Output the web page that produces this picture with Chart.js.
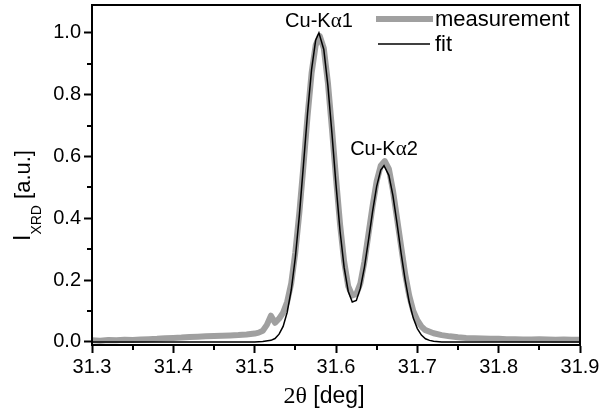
<!DOCTYPE html>
<html>
<head>
<meta charset="utf-8">
<script src="https://cdn.jsdelivr.net/npm/chart.js@4.4.1/dist/chart.umd.min.js"></script>
<style>
  html, body { margin: 0; padding: 0; background: #fff; }
</style>
</head>
<body>
<canvas id="xrd" width="606" height="412"></canvas>
<script>
const measTheta = [31.30, 31.31, 31.32, 31.33, 31.34, 31.35, 31.36, 31.37, 31.38, 31.39,
  31.40, 31.41, 31.42, 31.43, 31.44, 31.45, 31.46, 31.47, 31.48, 31.49,
  31.50, 31.505, 31.51, 31.515, 31.52, 31.525, 31.53, 31.535, 31.54, 31.545,
  31.55, 31.555, 31.56, 31.565, 31.57, 31.575, 31.58, 31.585, 31.59, 31.595,
  31.60, 31.605, 31.61, 31.615, 31.62, 31.625, 31.63, 31.635, 31.64, 31.645,
  31.65, 31.655, 31.66, 31.665, 31.67, 31.675, 31.68, 31.685, 31.69, 31.695,
  31.70, 31.705, 31.71, 31.72, 31.73, 31.74, 31.75, 31.76, 31.77, 31.78,
  31.79, 31.80, 31.81, 31.82, 31.83, 31.84, 31.85, 31.86, 31.87, 31.88, 31.89, 31.90];
const measInt = [0.005, 0.004, 0.006, 0.005, 0.007, 0.006, 0.008, 0.009, 0.010, 0.012,
  0.013, 0.014, 0.016, 0.017, 0.018, 0.019, 0.020, 0.021, 0.022, 0.024,
  0.027, 0.030, 0.036, 0.055, 0.085, 0.062, 0.075, 0.095, 0.130, 0.190,
  0.290, 0.420, 0.570, 0.730, 0.870, 0.960, 0.990, 0.950, 0.840, 0.690,
  0.530, 0.380, 0.260, 0.180, 0.150, 0.155, 0.190, 0.260, 0.350, 0.440,
  0.520, 0.570, 0.585, 0.560, 0.490, 0.400, 0.310, 0.220, 0.150, 0.100,
  0.070, 0.050, 0.038, 0.028, 0.022, 0.018, 0.015, 0.013, 0.012, 0.011,
  0.010, 0.010, 0.009, 0.009, 0.008, 0.008, 0.009, 0.008, 0.007, 0.008, 0.007, 0.007];

// fitted curve (two peaks, K-alpha1 and K-alpha2)
const fitTheta = [31.30, 31.40, 31.50, 31.51, 31.52, 31.525, 31.53, 31.535, 31.54, 31.545,
  31.55, 31.555, 31.56, 31.565, 31.57, 31.575, 31.579, 31.585, 31.59, 31.595,
  31.60, 31.605, 31.61, 31.615, 31.62, 31.625, 31.63, 31.635, 31.64, 31.645,
  31.65, 31.655, 31.659, 31.665, 31.67, 31.675, 31.68, 31.685, 31.69, 31.695,
  31.70, 31.705, 31.71, 31.715, 31.72, 31.73, 31.80, 31.90];
const fitInt = [0.000, 0.000, 0.000, 0.001, 0.005, 0.011, 0.025, 0.050, 0.096, 0.168,
  0.273, 0.411, 0.573, 0.739, 0.882, 0.976, 1.000, 0.946, 0.830, 0.675,
  0.509, 0.358, 0.241, 0.164, 0.129, 0.134, 0.174, 0.242, 0.330, 0.422,
  0.503, 0.556, 0.570, 0.539, 0.473, 0.384, 0.288, 0.201, 0.129, 0.077,
  0.043, 0.022, 0.010, 0.005, 0.002, 0.000, 0.000, 0.000];

const xTicks = [31.3, 31.4, 31.5, 31.6, 31.7, 31.8, 31.9];
const xMinor = [31.35, 31.45, 31.55, 31.65, 31.75, 31.85];
const yTicks = [0.0, 0.2, 0.4, 0.6, 0.8, 1.0];
const yMinor = [0.1, 0.3, 0.5, 0.7, 0.9];

const peakNames = ['1', '2'];
const peakTheta = [31.579, 31.659];
const peakTop = [1.0, 0.585];

const legendNames = ['measurement', 'fit'];

const SANS = '"Liberation Sans", Arial, sans-serif';
const SERIF = '"Liberation Serif", "Times New Roman", serif';
const GREY = '#a0a0a0';

function toPoints(xs, ys) {
  return xs.map((x, i) => ({ x: x, y: ys[i] }));
}

// draws runs of [text, font, dy] left to right starting at x
function drawRuns(c, runs, x, y, align) {
  let total = 0;
  runs.forEach(r => { c.font = r[1]; total += c.measureText(r[0]).width; });
  let px = align === 'center' ? x - total / 2 : x;
  c.textAlign = 'left';
  runs.forEach(r => {
    c.font = r[1];
    c.fillText(r[0], px, y + (r[2] || 0));
    px += c.measureText(r[0]).width;
  });
}

// frame, minor ticks, peak labels, legend and axis titles
const extras = {
  id: 'extras',
  afterDraw(chart) {
    const c = chart.ctx;
    const a = chart.chartArea;
    const sx = chart.scales.x;
    const sy = chart.scales.y;
    c.save();

    c.strokeStyle = '#000';
    c.lineWidth = 2;
    c.strokeRect(a.left, a.top, a.right - a.left, a.bottom - a.top);

    // minor ticks
    c.beginPath();
    xMinor.forEach(v => {
      const px = Math.round(sx.getPixelForValue(v));
      c.moveTo(px, a.bottom);
      c.lineTo(px, a.bottom + 5);
    });
    yMinor.forEach(v => {
      const py = Math.round(sy.getPixelForValue(v));
      c.moveTo(a.left, py);
      c.lineTo(a.left - 5, py);
    });
    c.stroke();

    // peak labels  Cu-Kα1 / Cu-Kα2
    c.fillStyle = '#000';
    c.textBaseline = 'alphabetic';
    peakNames.forEach((t, i) => {
      drawRuns(c, [
        ['Cu-K', '20px ' + SANS],
        ['\u03b1', '21px ' + SERIF],
        [t, '20px ' + SANS]
      ], sx.getPixelForValue(peakTheta[i]), sy.getPixelForValue(peakTop[i]) - 6, 'center');
    });

    // legend
    c.lineCap = 'butt';
    c.strokeStyle = GREY;
    c.lineWidth = 6;
    c.beginPath(); c.moveTo(376, 19); c.lineTo(433, 19); c.stroke();
    c.strokeStyle = '#000';
    c.lineWidth = 1.5;
    c.beginPath(); c.moveTo(378, 44); c.lineTo(430, 44); c.stroke();
    c.textAlign = 'left';
    c.textBaseline = 'middle';
    c.font = '22px ' + SANS;
    c.fillText(legendNames[0], 435, 20);
    c.fillText(legendNames[1], 435, 45);

    // x title: 2θ [deg]
    c.textBaseline = 'alphabetic';
    drawRuns(c, [
      ['2\u03b8', '24px ' + SERIF],
      [' [deg]', '23px ' + SANS]
    ], 324, 403, 'center');

    // y title: I_XRD [a.u.]
    c.translate(30, 241);
    c.rotate(-Math.PI / 2);
    drawRuns(c, [
      ['I', '23px ' + SANS],
      ['XRD', '14px ' + SANS, 11],
      [' [a.u.]', '22px ' + SANS]
    ], 0, 0, 'left');

    c.restore();
  }
};

new Chart(document.getElementById('xrd'), {
  type: 'line',
  data: {
    datasets: [
      {
        label: legendNames[0],
        data: toPoints(measTheta, measInt),
        borderColor: GREY,
        borderWidth: 6,
        borderJoinStyle: 'round',
        pointRadius: 0,
        tension: 0,
        order: 2
      },
      {
        label: legendNames[1],
        data: toPoints(fitTheta, fitInt),
        borderColor: '#000',
        borderWidth: 1.5,
        pointRadius: 0,
        tension: 0,
        order: 1
      }
    ]
  },
  options: {
    responsive: false,
    animation: false,
    devicePixelRatio: 1,
    layout: { padding: { top: 5, right: 26, left: 0, bottom: 0 } },
    plugins: {
      legend: { display: false },
      tooltip: { enabled: false }
    },
    scales: {
      x: {
        type: 'linear',
        min: 31.3,
        max: 31.9,
        afterBuildTicks: s => { s.ticks = xTicks.map(v => ({ value: v })); },
        afterFit: s => { s.height = 67; s.paddingLeft = 0; s.paddingRight = 0; },
        grid: { drawOnChartArea: false, tickLength: 8, tickWidth: 2, color: '#000' },
        border: { color: '#000', width: 2 },
        ticks: {
          autoSkip: false,
          maxRotation: 0,
          padding: 2,
          color: '#000',
          font: { family: SANS, size: 20 },
          callback: v => v.toFixed(1)
        }
      },
      y: {
        min: -0.01,
        max: 1.09,
        afterBuildTicks: s => { s.ticks = yTicks.map(v => ({ value: v })); },
        afterFit: s => { s.width = 92; s.paddingTop = 0; s.paddingBottom = 0; },
        grid: { drawOnChartArea: false, tickLength: 8, tickWidth: 2, color: '#000' },
        border: { color: '#000', width: 2 },
        ticks: {
          padding: 3,
          color: '#000',
          font: { family: SANS, size: 20 },
          callback: v => v.toFixed(1)
        }
      }
    }
  },
  plugins: [extras]
});
</script>
</body>
</html>
